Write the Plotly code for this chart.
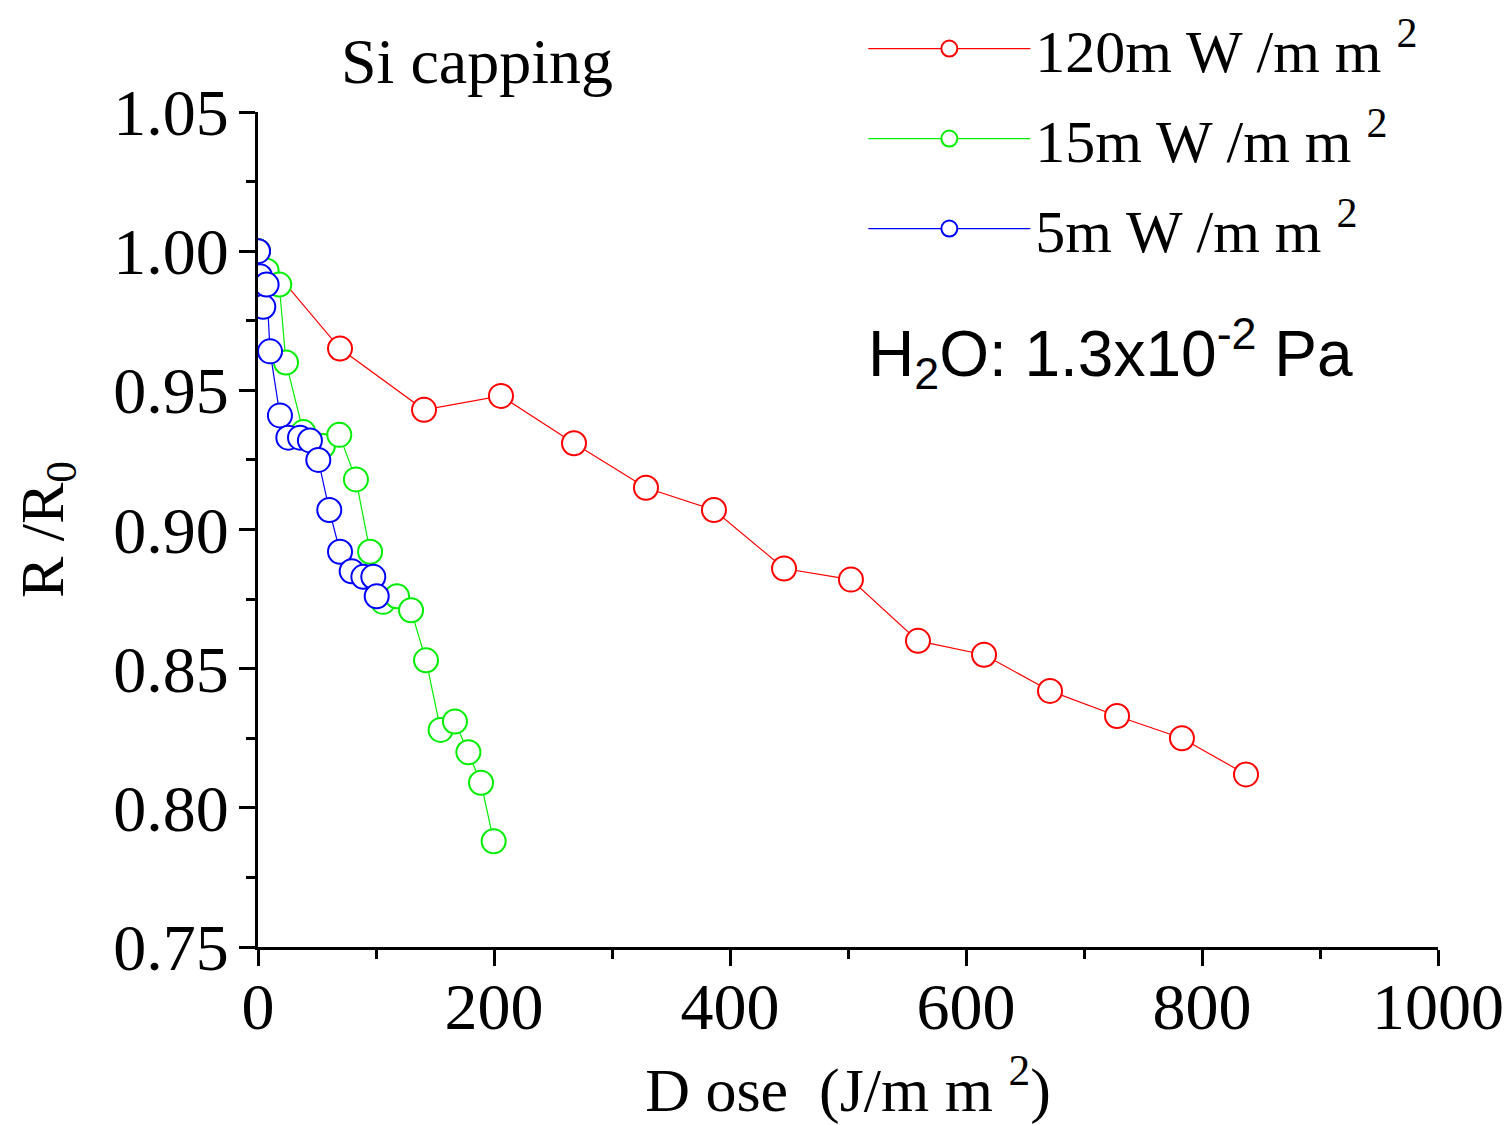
import plotly.graph_objects as go

# ---- data ----
dose_120 = [0, 69.5, 140.7, 205.9, 267.8, 328.8, 386.4, 445.8, 502.5, 559.3, 615.3, 671.2, 728.0, 783.0, 837.3]
ratio_120 = [1.000, 0.965, 0.943, 0.948, 0.931, 0.915, 0.907, 0.886, 0.882, 0.860, 0.855, 0.842, 0.833, 0.825, 0.812]

dose_15 = [0, 7.3, 18.0, 23.7, 38.4, 55.0, 68.9, 83.0, 95.0, 106.0, 117.8, 129.7, 142.4, 154.8, 166.9, 178.3, 189.0, 199.7]
ratio_15 = [1.000, 0.993, 0.988, 0.960, 0.935, 0.930, 0.934, 0.918, 0.892, 0.874, 0.876, 0.871, 0.853, 0.828, 0.831, 0.820, 0.809, 0.788]

dose_5 = [0, 1.7, 4.5, 7.3, 10.2, 18.6, 25.7, 35.6, 44.0, 51.1, 60.4, 69.5, 79.4, 89.3, 97.7, 100.6]
ratio_5 = [1.000, 0.991, 0.980, 0.988, 0.964, 0.941, 0.933, 0.933, 0.932, 0.925, 0.907, 0.892, 0.885, 0.883, 0.883, 0.876]

series_names = ["120m W /m m <sup>2</sup>", "15m W /m m <sup>2</sup>", "5m W /m m <sup>2</sup>"]
series_colors = ["#ff0000", "#00ee00", "#0000ff"]

x_ticks = [0, 200, 400, 600, 800, 1000]
y_ticks = [0.75, 0.80, 0.85, 0.90, 0.95, 1.00, 1.05]

SERIF = "Liberation Serif, Times New Roman, serif"
SANS = "Liberation Sans, Arial, sans-serif"

fig = go.Figure()
for i, (xs, ys) in enumerate([(dose_120, ratio_120), (dose_15, ratio_15), (dose_5, ratio_5)]):
    fig.add_trace(go.Scatter(
        x=xs, y=ys, mode="lines+markers", name=series_names[i],
        legendgroup=f"g{i}",
        line=dict(color=series_colors[i], width=1.2),
        marker=dict(symbol="circle", size=24, color="white",
                    line=dict(color=series_colors[i], width=2)),
    ))

fig.update_layout(
    width=1503, height=1117,
    margin=dict(l=250, r=73, t=104, b=178, autoexpand=False),
    paper_bgcolor="white", plot_bgcolor="white",
    font=dict(family=SERIF, color="black"),
    showlegend=True,
    legend=dict(
        x=0.513, y=1.1305, xanchor="left", yanchor="top",
        font=dict(family=SERIF, size=60, color="black"),
        bgcolor="rgba(0,0,0,0)", borderwidth=0,
        itemwidth=162, tracegroupgap=9, itemsizing="trace",
    ),
    xaxis=dict(
        range=[0, 1000], tickvals=x_ticks, ticktext=[str(v) for v in x_ticks],
        showline=True, linecolor="black", linewidth=3,
        ticks="outside", ticklen=16, tickwidth=3, tickcolor="black",
        minor=dict(dtick=100, ticks="outside", ticklen=9, tickwidth=3, tickcolor="black", showgrid=False),
        showgrid=False, zeroline=False, automargin=False,
        tickfont=dict(family=SERIF, size=66, color="black"),
        ticklabelstandoff=-16,
        title=dict(text="D ose  (J/m m <sup>2</sup>)", font=dict(family=SERIF, size=62, color="black"), standoff=43),
    ),
    yaxis=dict(
        range=[0.75, 1.05], tickvals=y_ticks, ticktext=[f"{v:.2f}" for v in y_ticks],
        showline=True, linecolor="black", linewidth=3,
        ticks="outside", ticklen=16, tickwidth=3, tickcolor="black",
        minor=dict(dtick=0.025, ticks="outside", ticklen=9, tickwidth=3, tickcolor="black", showgrid=False),
        showgrid=False, zeroline=False, automargin=False,
        tickfont=dict(family=SERIF, size=66, color="black"),
        ticklabelstandoff=-3,
        title=dict(text="R /R<sub>0</sub>", font=dict(family=SERIF, size=62, color="black"), standoff=45),
    ),
    annotations=[
        dict(text="Si capping", xref="paper", yref="paper", x=0.1856, y=1.06,
             xanchor="center", yanchor="middle", showarrow=False,
             font=dict(family=SERIF, size=64, color="black")),
        dict(text="H<sub>2</sub>O: 1.3x10<sup>-2</sup> Pa", xref="paper", yref="paper", x=0.515, y=0.711,
             xanchor="left", yanchor="middle", showarrow=False,
             font=dict(family=SANS, size=64, color="black")),
    ],
)

fig.write_html("out.html")
